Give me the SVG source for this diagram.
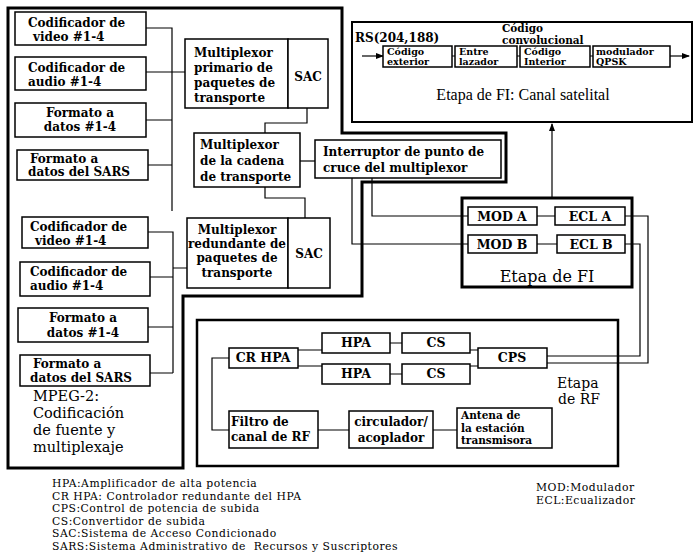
<svg xmlns="http://www.w3.org/2000/svg" width="694" height="559" viewBox="0 0 694 559">
<defs>
<marker id="ah" markerWidth="8" markerHeight="8" refX="7" refY="3" orient="auto" markerUnits="userSpaceOnUse"><path d="M0,0 L8,3 L0,6 Z" fill="#000"/></marker>
<style>
.box{fill:#fff;stroke:#000;stroke-width:1.5}
.frame{fill:none;stroke:#000;stroke-width:3}
.w{fill:none;stroke:#000;stroke-width:1.2}
text{font-family:"DejaVu Serif","Liberation Serif",serif;fill:#000}
.t{font-size:12px;font-weight:bold}
.r{font-size:12.5px;font-weight:bold}
.s{font-size:9.5px;font-weight:bold}
.c{font-size:10.5px;font-weight:bold}
.a{font-size:10.5px;font-weight:bold}
.m{text-anchor:middle}
.big{font-size:14.5px}
.lg{font-size:10.8px;letter-spacing:0.5px;white-space:pre}
</style>
</defs>
<rect width="694" height="559" fill="#fff"/>

<g id="frames">
<path class="frame" d="M8,8 H342 V133 H506 V182 H362 V296 H183 V468 H8 Z"/>
</g>

<g id="connectors">
<path class="w" d="M146,28 H172 V211 M146,72 H185 M146,120 H172 M148,165 H172"/>
<path class="w" d="M148,232 H173 V373 M150,277 H173 M173,268 H187 M148,327 H173 M150,373 H173"/>
<path class="w" d="M307,108 V123 H265 V133"/>
<path class="w" d="M265,187 V198 H305 V218"/>
<path class="w" d="M300,161 H315"/>
<path class="w" d="M372,178 V216 H468"/>
<path class="w" d="M352,178 V244 H468"/>
<path class="w" d="M537,216 H555 M537,244 H557"/>
<path class="w" d="M625,216 H648 V363 H547"/>
<path class="w" d="M625,244 H640 V356 H547"/>
<path class="w" d="M552,198 V124" marker-end="url(#ah)"/>
<path class="w" d="M298,350 H322 M298,366 H322 M390,343 H402 M390,374 H402 M470,350 H478 M470,366 H478"/>
<path class="w" d="M229,358 H212 V430 H229 M318,430 H349 M433,430 H457"/>
<path class="w" d="M362,56 H383" marker-end="url(#ah)"/>
<path class="w" d="M452,56 H455 M517,56 H520 M590,56 H593"/>
<path class="w" d="M670,56 H689" marker-end="url(#ah)"/>
</g>

<g id="n-cod-video1"><rect class="box" x="15" y="12" width="131" height="33"/>
<text class="t" x="28" y="27">Codificador de</text><text class="t" x="33" y="41">video #1-4</text></g>
<g id="n-cod-audio1"><rect class="box" x="15" y="57" width="131" height="33"/>
<text class="t" x="28" y="72">Codificador de</text><text class="t" x="28" y="86">audio #1-4</text></g>
<g id="n-fmt1"><rect class="box" x="15" y="103" width="131" height="34"/>
<text class="t m" x="80" y="117">Formato a</text><text class="t m" x="80" y="131">datos #1-4</text></g>
<g id="n-sars1"><rect class="box" x="17" y="150" width="131" height="30"/>
<text class="t" x="30" y="163">Formato a</text><text class="t" x="28" y="176">datos del SARS</text></g>

<g id="n-cod-video2"><rect class="box" x="22" y="217" width="126" height="31"/>
<text class="t" x="30" y="231">Codificador de</text><text class="t" x="35" y="245">video #1-4</text></g>
<g id="n-cod-audio2"><rect class="box" x="20" y="262" width="130" height="34"/>
<text class="t" x="30" y="276">Codificador de</text><text class="t" x="30" y="290">audio #1-4</text></g>
<g id="n-fmt2"><rect class="box" x="18" y="308" width="130" height="34"/>
<text class="t m" x="83" y="322">Formato a</text><text class="t m" x="83" y="337">datos #1-4</text></g>
<g id="n-sars2"><rect class="box" x="20" y="355" width="130" height="31"/>
<text class="t" x="33" y="368">Formato a</text><text class="t" x="30" y="382">datos del SARS</text></g>

<g id="n-mpeg-label">
<text class="big" x="33" y="401">MPEG-2:</text>
<text class="big" x="33" y="418">Codificación</text>
<text class="big" x="33" y="435">de fuente y</text>
<text class="big" x="33" y="452">multiplexaje</text>
</g>

<g id="n-mux-prim"><rect class="box" x="185" y="39" width="103" height="69"/><rect class="box" x="288" y="39" width="40" height="69"/>
<text class="t" x="194" y="57">Multiplexor</text><text class="t" x="194" y="72">primario de</text><text class="t" x="194" y="87">paquetes de</text><text class="t" x="194" y="102">transporte</text>
<text class="t m" x="308" y="81">SAC</text></g>

<g id="n-mux-cadena"><rect class="box" x="194" y="133" width="106" height="54"/>
<text class="t" x="200" y="149">Multiplexor</text><text class="t" x="200" y="165">de la cadena</text><text class="t" x="200" y="181">de transporte</text></g>

<g id="n-mux-red"><rect class="box" x="187" y="218" width="101" height="70"/><rect class="box" x="288" y="218" width="42" height="70"/>
<text class="t m" x="237" y="234">Multiplexor</text><text class="t m" x="237" y="248" textLength="98" lengthAdjust="spacingAndGlyphs">redundante de</text><text class="t m" x="237" y="262">paquetes de</text><text class="t m" x="237" y="277">transporte</text>
<text class="t m" x="309" y="258">SAC</text></g>

<g id="n-interruptor"><rect class="box" x="315" y="140" width="186" height="38"/>
<text class="t" x="323" y="156">Interruptor de punto de</text><text class="t" x="323" y="172">cruce del multiplexor</text></g>

<g id="n-sat">
<rect x="352" y="22" width="340" height="100" fill="none" stroke="#000" stroke-width="2"/>
<text class="t" x="355" y="42">RS(204,188)</text>
<text class="c" x="502" y="32">Código</text><text class="c" x="502" y="44">convolucional</text>
<rect class="box" x="383" y="46" width="69" height="21"/><text class="s" x="387" y="55">Código</text><text class="s" x="387" y="64.5">exterior</text>
<rect class="box" x="455" y="46" width="62" height="21"/><text class="s" x="459" y="55">Entre</text><text class="s" x="459" y="64.5">lazador</text>
<rect class="box" x="520" y="46" width="70" height="21"/><text class="s" x="524" y="55">Código</text><text class="s" x="524" y="64.5">Interior</text>
<rect class="box" x="593" y="46" width="77" height="21"/><text class="s" x="596" y="55">modulador</text><text class="s" x="596" y="64.5">QPSK</text>
<text x="523" y="100" font-size="16" text-anchor="middle" style="font-family:'Liberation Serif',serif">Etapa de FI: Canal satelital</text>
</g>

<g id="n-if">
<rect x="462" y="198" width="170" height="89" fill="none" stroke="#000" stroke-width="3"/>
<rect class="box" x="468" y="207" width="69" height="18"/><text class="r m" x="502" y="221">MOD A</text>
<rect class="box" x="555" y="207" width="70" height="18"/><text class="r m" x="590" y="221">ECL A</text>
<rect class="box" x="468" y="235" width="69" height="18"/><text class="r m" x="502" y="249">MOD B</text>
<rect class="box" x="557" y="235" width="68" height="18"/><text class="r m" x="591" y="249">ECL B</text>
<text x="547" y="282" font-size="16" text-anchor="middle">Etapa de FI</text>
</g>

<g id="n-rf">
<rect x="197" y="320" width="421" height="146" fill="none" stroke="#000" stroke-width="2.5"/>
<rect class="box" x="229" y="348" width="69" height="20"/><text class="r m" x="263" y="362">CR HPA</text>
<rect class="box" x="322" y="333" width="68" height="20"/><text class="r m" x="356" y="347">HPA</text>
<rect class="box" x="402" y="333" width="68" height="20"/><text class="r m" x="436" y="347">CS</text>
<rect class="box" x="322" y="364" width="68" height="20"/><text class="r m" x="356" y="378">HPA</text>
<rect class="box" x="402" y="364" width="68" height="20"/><text class="r m" x="436" y="378">CS</text>
<rect class="box" x="478" y="348" width="69" height="20"/><text class="r m" x="512" y="362">CPS</text>
<text x="557" y="388" font-size="14">Etapa</text><text x="558" y="404" font-size="14">de RF</text>
<rect class="box" x="229" y="411" width="89" height="37"/><text class="t" x="231" y="426">Filtro de</text><text class="t" x="231" y="441">canal de RF</text>
<rect class="box" x="349" y="411" width="84" height="37"/><text class="t m" x="391" y="426">circulador/</text><text class="t m" x="391" y="442">acoplador</text>
<rect class="box" x="457" y="408" width="95" height="40"/><text class="a" x="461" y="419">Antena de</text><text class="a" x="461" y="431.5">la estación</text><text class="a" x="461" y="444">transmisora</text>
</g>

<g id="legend">
<text class="lg" x="52" y="487">HPA:Amplificador de alta potencia</text>
<text class="lg" x="52" y="499.6">CR HPA: Controlador redundante del HPA</text>
<text class="lg" x="52" y="512.2">CPS:Control de potencia de subida</text>
<text class="lg" x="52" y="524.8">CS:Convertidor de subida</text>
<text class="lg" x="52" y="537.4">SAC:Sistema de Acceso Condicionado</text>
<text class="lg" x="52" y="550" xml:space="preserve">SARS:Sistema Administrativo de  Recursos y Suscriptores</text>
<text class="lg" x="536" y="491">MOD:Modulador</text>
<text class="lg" x="536" y="504">ECL:Ecualizador</text>
</g>
</svg>
